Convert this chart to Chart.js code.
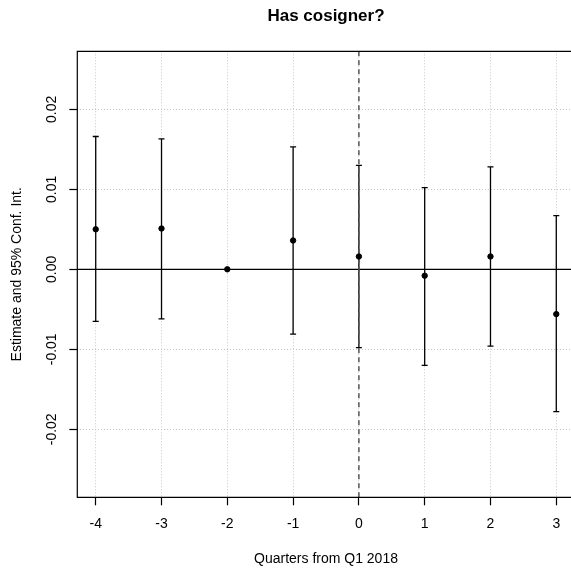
<!DOCTYPE html>
<html>
<head>
<meta charset="utf-8">
<script src="https://cdn.jsdelivr.net/npm/chart.js@4/dist/chart.umd.min.js"></script>
<style>
    html, body { margin: 0; padding: 0; background: #fff; overflow: hidden; }
    #wrap { width: 590px; height: 570px; }
</style>
</head>
<body>
<div id="wrap"><canvas id="coefPlot" width="590" height="570"></canvas></div>
<script>
// Event-study coefficients by quarter relative to Q1 2018
const quarters = [-4, -3, -2, -1, 0, 1, 2, 3];
const estimates = [0.0050, 0.0051, 0.0000, 0.0036, 0.0016, -0.0008, 0.0016, -0.0056];
const ciLow = [-0.0065, -0.0062, null, -0.0081, -0.0098, -0.0120, -0.0096, -0.0178];
const ciHigh = [0.0166, 0.0163, null, 0.0153, 0.0130, 0.0102, 0.0128, 0.0067];

const xTicks = [-4, -3, -2, -1, 0, 1, 2, 3];
const yTicks = [-0.02, -0.01, 0, 0.01, 0.02];
const yTickLabels = ['-0.02', '-0.01', '0.00', '0.01', '0.02'];

const FONT = "'Liberation Sans', Arial, Helvetica, sans-serif";

// Box, zero line, reference line at 0 and the confidence interval whiskers
const errorBars = {
    id: 'errorBars',
    beforeDatasetsDraw(chart) {
        const { ctx, chartArea: a, scales: { x, y } } = chart;
        ctx.save();

        // horizontal line at zero
        ctx.strokeStyle = '#000';
        ctx.lineWidth = 1.3;
        ctx.beginPath();
        ctx.moveTo(a.left, y.getPixelForValue(0));
        ctx.lineTo(a.right, y.getPixelForValue(0));
        ctx.stroke();

        // whiskers
        const cap = 3;
        quarters.forEach((q, i) => {
            if (ciLow[i] === null) return;
            const px = x.getPixelForValue(q);
            const lo = y.getPixelForValue(ciLow[i]);
            const hi = y.getPixelForValue(ciHigh[i]);
            ctx.beginPath();
            ctx.moveTo(px, lo);
            ctx.lineTo(px, hi);
            ctx.moveTo(px - cap, lo);
            ctx.lineTo(px + cap, lo);
            ctx.moveTo(px - cap, hi);
            ctx.lineTo(px + cap, hi);
            ctx.stroke();
        });

        // dashed vertical line at quarter 0
        ctx.strokeStyle = '#555';
        ctx.lineWidth = 1.5;
        ctx.setLineDash([5, 4]);
        ctx.beginPath();
        ctx.moveTo(x.getPixelForValue(0), a.top);
        ctx.lineTo(x.getPixelForValue(0), a.bottom);
        ctx.stroke();
        ctx.setLineDash([]);

        // plot box: top, left and bottom only, the right side is off the page
        ctx.strokeStyle = '#000';
        ctx.lineWidth = 1.2;
        ctx.beginPath();
        ctx.moveTo(a.right + 20, a.top);
        ctx.lineTo(a.left, a.top);
        ctx.lineTo(a.left, a.bottom);
        ctx.lineTo(a.right + 20, a.bottom);
        ctx.stroke();
        ctx.restore();
    }
};

const data = {
    datasets: [{
        label: 'Estimate',
        data: quarters.map((q, i) => ({ x: q, y: estimates[i] })),
        backgroundColor: '#000',
        borderColor: '#000',
        pointRadius: 2.7,
        pointHoverRadius: 2.7,
        showLine: false
    }]
};

const config = {
    type: 'scatter',
    data: data,
    options: {
        responsive: false,
        animation: false,
        devicePixelRatio: 1,
        layout: { padding: { left: 0, right: 15.3, top: 0, bottom: 0 } },
        plugins: {
            legend: { display: false },
            tooltip: { enabled: false },
            title: {
                display: true,
                text: 'Has cosigner?',
                fullSize: false,
                color: '#000',
                font: { family: FONT, size: 17, weight: 'bold', lineHeight: 1.2 },
                padding: { top: 6, bottom: 24.9 }
            }
        },
        scales: {
            x: {
                type: 'linear',
                min: -4.28,
                max: 3.28,
                afterBuildTicks: (scale) => { scale.ticks = xTicks.map(v => ({ value: v })); },
                afterFit: (scale) => {
                    scale.height = 72.7;
                    scale.paddingLeft = 0;
                    scale.paddingRight = 0;
                },
                grid: {
                    color: '#c8c8c8',
                    lineWidth: 1,
                    tickLength: 8,
                    tickColor: '#000',
                    tickWidth: 1.2
                },
                border: { display: false, dash: [1, 2] },
                ticks: {
                    color: '#000',
                    padding: 10,
                    maxRotation: 0,
                    font: { family: FONT, size: 14 },
                    callback: (v) => String(v)
                },
                title: {
                    display: true,
                    text: 'Quarters from Q1 2018',
                    color: '#000',
                    font: { family: FONT, size: 14, lineHeight: 1.2 },
                    padding: { top: 0, bottom: 2 }
                }
            },
            y: {
                type: 'linear',
                min: -0.0285,
                max: 0.02725,
                afterBuildTicks: (scale) => { scale.ticks = yTicks.map(v => ({ value: v })); },
                afterFit: (scale) => { scale.width = 77.3; },
                grid: {
                    color: '#c8c8c8',
                    lineWidth: 1,
                    tickLength: 8,
                    tickColor: '#000',
                    tickWidth: 1.2
                },
                border: { display: false, dash: [1, 2] },
                ticks: {
                    color: '#000',
                    padding: 1,
                    minRotation: 90,
                    maxRotation: 90,
                    crossAlign: 'center',
                    font: { family: FONT, size: 14 },
                    callback: (v) => yTickLabels[yTicks.findIndex(t => Math.abs(t - v) < 1e-9)]
                },
                title: {
                    display: true,
                    text: 'Estimate and 95% Conf. Int.',
                    color: '#000',
                    font: { family: FONT, size: 14, lineHeight: 1.2 },
                    padding: { top: 8.6, bottom: 0 }
                }
            }
        }
    },
    plugins: [errorBars]
};

try {
    const coefChart = new Chart(document.getElementById('coefPlot'), config);
}
catch (e) {
    document.body.textContent = 'Error draw chart: ' + e;
}
</script>
</body>
</html>
